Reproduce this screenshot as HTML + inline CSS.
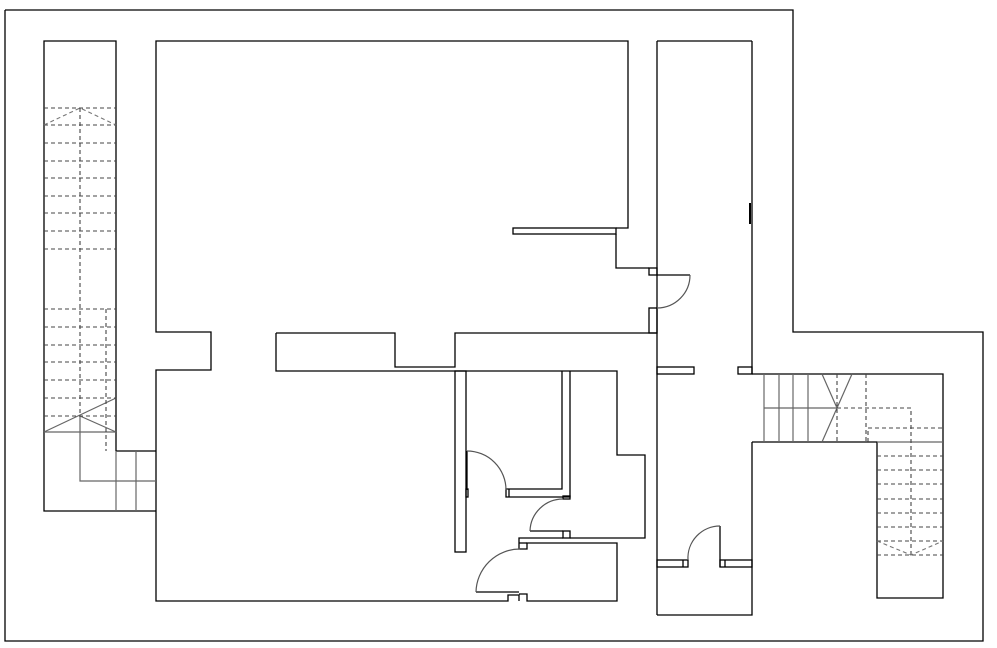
<!DOCTYPE html>
<html><head><meta charset="utf-8"><style>html,body{margin:0;padding:0;background:#fff}svg{display:block}</style></head>
<body>
<svg width="997" height="648" viewBox="0 0 997 648" xmlns="http://www.w3.org/2000/svg">
<g fill="none" stroke="#000" stroke-width="1.3">
<polyline points="5,10 793,10 793,332 983,332 983,641 5,641 5,10"/>
<polyline points="116,451 116,41 44,41 44,511 156,511"/>
<line x1="116" y1="451" x2="156" y2="451"/>
<polyline points="616,228 628,228 628,41 156,41 156,332 211,332 211,370 156,370 156,601 508,601 508,595 519,595 519,601"/>
<rect x="513" y="228" width="103" height="6"/>
<polyline points="616,234 616,268 649,268"/>
<rect x="649" y="268" width="8" height="7"/>
<line x1="657" y1="275" x2="690" y2="275"/>
<rect x="649" y="308" width="8" height="25"/>
<polyline points="276,333 395,333 395,367 455,367 455,333 657,333"/>
<polyline points="276,333 276,371 617,371 617,455 645,455 645,538 570,538"/>
<rect x="455" y="371" width="11" height="181"/>
<polyline points="562,371 562,489 506,489 506,497 570,497 570,371"/>
<line x1="509" y1="489" x2="509" y2="497"/>
<rect x="466" y="489" width="2" height="8"/>
<line x1="467" y1="451" x2="467" y2="490"/>
<rect x="563" y="496" width="7" height="3"/>
<line x1="530" y1="531" x2="563" y2="531"/>
<rect x="563" y="531" width="7" height="7"/>
<polyline points="563,538 519,538 519,549 527,549 527,543 617,543 617,601 527,601 527,594 519,594"/>
<line x1="519" y1="543" x2="527" y2="543"/>
<line x1="476" y1="592" x2="519" y2="592"/>
<line x1="657" y1="41" x2="657" y2="615"/>
<line x1="657" y1="41" x2="752" y2="41"/>
<line x1="752" y1="41" x2="752" y2="374"/>
<polyline points="752,442 752,615 657,615"/>
<rect x="657" y="367" width="37" height="7"/>
<rect x="738" y="367" width="14" height="7"/>
<rect x="657" y="560" width="31" height="7"/>
<line x1="683" y1="560" x2="683" y2="567"/>
<line x1="720" y1="526" x2="720" y2="567"/>
<rect x="720" y="560" width="32" height="7"/>
<line x1="725" y1="560" x2="725" y2="567"/>
<line x1="750" y1="203" x2="750" y2="224" stroke-width="2"/>
<polyline points="752,374 943,374 943,598 877,598 877,442 752,442"/>
</g>
<g fill="none" stroke="#555" stroke-width="1.2">
<path d="M690,275 A33,33 0 0 1 657,308"/>
<path d="M467,451 A39,39 0 0 1 506,490"/>
<path d="M563,499 A33,33 0 0 0 530,531"/>
<path d="M520,549 A44,44 0 0 0 476,592"/>
<path d="M720,526 A32,32 0 0 0 688,560"/>
</g>
<g fill="none" stroke="#666" stroke-width="1.2">
<line x1="44" y1="432" x2="116" y2="432"/>
<line x1="44" y1="432" x2="116" y2="398"/>
<line x1="80" y1="416" x2="116" y2="432"/>
<polyline points="80,416 80,481 156,481"/>
<line x1="116" y1="451" x2="116" y2="511"/>
<line x1="136" y1="451" x2="136" y2="511"/>
<line x1="764" y1="374" x2="764" y2="442"/>
<line x1="779" y1="374" x2="779" y2="442"/>
<line x1="793" y1="374" x2="793" y2="442"/>
<line x1="808" y1="374" x2="808" y2="442"/>
<line x1="764" y1="408" x2="837" y2="408"/>
<line x1="822" y1="374" x2="837" y2="408"/>
<line x1="852" y1="374" x2="822" y2="442"/>
<line x1="877" y1="442" x2="943" y2="442"/>
</g>
<g fill="none" stroke="#444" stroke-width="1.1" stroke-dasharray="4,3">
<line x1="44" y1="108" x2="116" y2="108"/>
<line x1="44" y1="125" x2="116" y2="125"/>
<line x1="44" y1="143" x2="116" y2="143"/>
<line x1="44" y1="161" x2="116" y2="161"/>
<line x1="44" y1="178" x2="116" y2="178"/>
<line x1="44" y1="196" x2="116" y2="196"/>
<line x1="44" y1="213" x2="116" y2="213"/>
<line x1="44" y1="231" x2="116" y2="231"/>
<line x1="44" y1="249" x2="116" y2="249"/>
<line x1="44" y1="309" x2="116" y2="309"/>
<line x1="44" y1="327" x2="116" y2="327"/>
<line x1="44" y1="345" x2="116" y2="345"/>
<line x1="44" y1="362" x2="116" y2="362"/>
<line x1="44" y1="380" x2="116" y2="380"/>
<line x1="44" y1="398" x2="116" y2="398"/>
<line x1="44" y1="416" x2="116" y2="416"/>
<line x1="80" y1="108" x2="80" y2="416"/>
<line x1="106" y1="309" x2="106" y2="451"/>
<polyline points="44,125 80,108 116,125" stroke="#777"/>
<line x1="837" y1="374" x2="837" y2="442"/>
<line x1="866" y1="374" x2="866" y2="442"/>
<polyline points="837,408 911,408 911,555"/>
<polyline points="868,442 868,428 943,428"/>
<line x1="877" y1="456" x2="943" y2="456"/>
<line x1="877" y1="470" x2="943" y2="470"/>
<line x1="877" y1="484" x2="943" y2="484"/>
<line x1="877" y1="499" x2="943" y2="499"/>
<line x1="877" y1="513" x2="943" y2="513"/>
<line x1="877" y1="527" x2="943" y2="527"/>
<line x1="877" y1="541" x2="943" y2="541"/>
<line x1="877" y1="555" x2="943" y2="555"/>
<polyline points="877,541 911,555 943,541" stroke="#777"/>
</g>
</svg>
</body></html>
